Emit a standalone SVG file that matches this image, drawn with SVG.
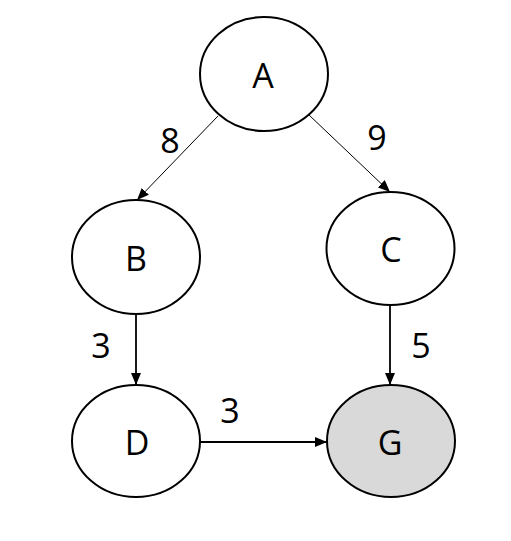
<svg xmlns="http://www.w3.org/2000/svg" width="511" height="541" viewBox="0 0 511 541">
<defs>
<style>
.node ellipse{stroke:#000;stroke-width:2;fill:#fff}
.node.goal ellipse{fill:#d9d9d9}
text{font-family:"Open Sans","Liberation Sans",sans-serif;font-size:34px;fill:#000;text-anchor:middle}
.edge{stroke:#000;fill:none}
.thin{stroke-width:1}
.thick{stroke-width:1.8}
</style>
<marker id="arr" viewBox="0 0 12 10" refX="12" refY="5" markerWidth="12" markerHeight="10" markerUnits="userSpaceOnUse" orient="auto">
<path d="M0,0 L12,5 L0,10 Z" fill="#000"/>
</marker>
</defs>
<rect width="511" height="541" fill="#fff"/>
<g id="connectors">
<line class="edge thin" x1="218" y1="116" x2="137" y2="200" marker-end="url(#arr)"/>
<line class="edge thin" x1="309" y1="115" x2="390" y2="192" marker-end="url(#arr)"/>
<line class="edge thick" x1="136" y1="314" x2="136" y2="385" marker-end="url(#arr)"/>
<line class="edge thick" x1="390" y1="305" x2="390" y2="385" marker-end="url(#arr)"/>
<line class="edge thick" x1="200" y1="442" x2="327" y2="442" marker-end="url(#arr)"/>
<text x="170" y="153">8</text>
<text x="377" y="150">9</text>
<text x="101" y="358">3</text>
<text x="421" y="358">5</text>
<text x="230" y="423">3</text>
</g>
<g id="A" class="node"><ellipse cx="264" cy="74" rx="64" ry="57"/><text x="263" y="88">A</text></g>
<g id="B" class="node"><ellipse cx="136" cy="257" rx="64" ry="57"/><text x="136" y="271">B</text></g>
<g id="C" class="node"><ellipse cx="390.5" cy="248.5" rx="64" ry="56.5"/><text x="391" y="262">C</text></g>
<g id="D" class="node"><ellipse cx="136" cy="441" rx="64" ry="56"/><text x="137" y="455">D</text></g>
<g id="G" class="node goal"><ellipse cx="391" cy="441" rx="64" ry="56"/><text x="390" y="455">G</text></g>
</svg>
